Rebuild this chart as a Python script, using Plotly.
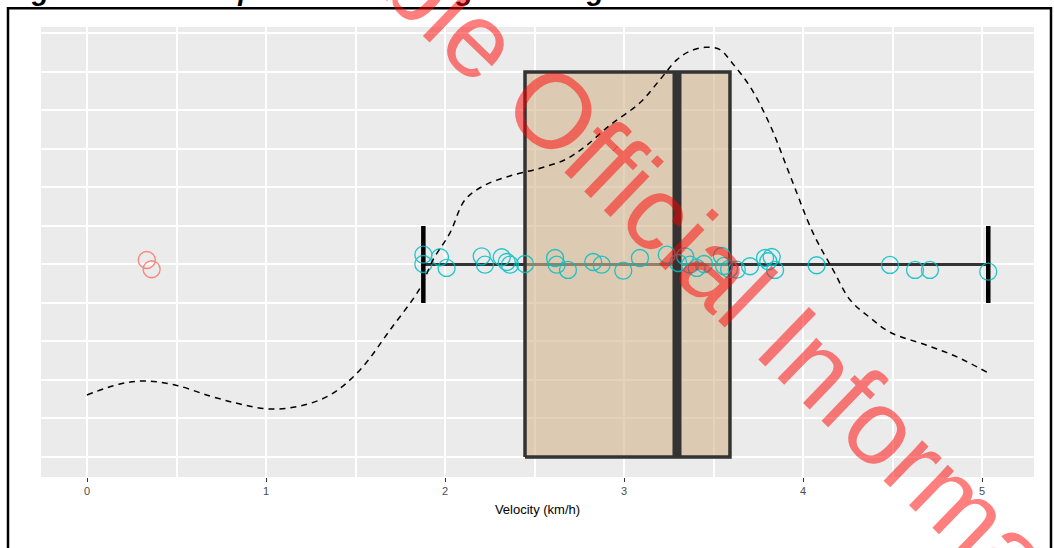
import plotly.graph_objects as go

# ---- data ----
# jittered observations (velocity km/h, vertical jitter position)
fast_x = [1.879, 1.879, 1.972, 2.009, 2.205, 2.223, 2.317, 2.345, 2.363, 2.447,
          2.615, 2.624, 2.687, 2.828, 2.875, 2.996, 3.089, 3.239, 3.303, 3.341,
          3.369, 3.406, 3.447, 3.547, 3.559, 3.587, 3.630, 3.704, 3.788, 3.806,
          3.825, 3.844, 4.076, 4.486, 4.626, 4.709, 5.035]
fast_y = [0.2627, 0.2506, 0.2594, 0.2455, 0.2606, 0.2497, 0.2594, 0.2532, 0.2497, 0.2506,
          0.2584, 0.2497, 0.2429, 0.2532, 0.2497, 0.2419, 0.2584, 0.2627, 0.2519, 0.2606,
          0.2497, 0.2455, 0.2506, 0.2610, 0.2481, 0.2442, 0.2432, 0.2477, 0.2584, 0.2542,
          0.2597, 0.2429, 0.2490, 0.2494, 0.2429, 0.2429, 0.2406]
slow_x = [0.334, 0.361]
slow_y = [0.2558, 0.2438]

# boxplot statistics
q1, median, q3 = 2.447, 3.296, 3.592
whisker_lo, whisker_hi = 1.879, 5.035
box_y0, box_y1, box_mid = 0.0, 0.5, 0.25
cap_half = 0.05

# kernel density estimate (dashed curve)
dens_x = [0.0, 0.184, 0.324, 0.492, 0.687, 0.855, 1.022, 1.190, 1.358, 1.525,
          1.693, 1.860, 1.933, 2.028, 2.112, 2.223, 2.363, 2.531, 2.670, 2.782,
          2.922, 3.089, 3.201, 3.296, 3.369, 3.453, 3.536, 3.603, 3.704, 3.816,
          3.927, 4.056, 4.168, 4.263, 4.374, 4.486, 4.693, 4.860, 5.028]
dens_y = [0.0805, 0.0948, 0.0987, 0.0935, 0.0792, 0.0688, 0.0623, 0.0662, 0.0805, 0.113,
          0.165, 0.219, 0.256, 0.291, 0.334, 0.353, 0.365, 0.375, 0.386, 0.403,
          0.431, 0.460, 0.490, 0.516, 0.527, 0.532, 0.529, 0.512, 0.481, 0.431,
          0.366, 0.291, 0.243, 0.204, 0.181, 0.162, 0.145, 0.130, 0.110]

x_ticks = [0, 1, 2, 3, 4, 5]
x_labels = ["0", "1", "2", "3", "4", "5"]

title_text = "Figure 2: Travel speeds from straightline segments."
watermark_text = "Releasable Official Information"

fig = go.Figure()

# whisker line (full range, box drawn over it)
fig.add_trace(go.Scatter(x=[whisker_lo, whisker_hi], y=[box_mid, box_mid], mode="lines",
                         line=dict(color="#333333", width=3), hoverinfo="skip", showlegend=False))
# whisker caps
fig.add_trace(go.Scatter(x=[whisker_lo, whisker_lo, None, whisker_hi, whisker_hi],
                         y=[box_mid - cap_half, box_mid + cap_half, None, box_mid - cap_half, box_mid + cap_half],
                         mode="lines", line=dict(color="black", width=4.5),
                         hoverinfo="skip", showlegend=False))
# box
fig.add_trace(go.Scatter(x=[q1, q3, q3, q1, q1], y=[box_y0, box_y0, box_y1, box_y1, box_y0],
                         mode="lines", fill="toself", fillcolor="rgba(210,180,140,0.6)",
                         line=dict(color="#333333", width=3.5), hoverinfo="skip", showlegend=False))
# median
fig.add_trace(go.Scatter(x=[median, median], y=[box_y0, box_y1], mode="lines",
                         line=dict(color="#333333", width=9), hoverinfo="skip", showlegend=False))
# points
fig.add_trace(go.Scatter(x=slow_x, y=slow_y, mode="markers",
                         marker=dict(symbol="circle-open", size=17, color="#F8766D",
                                     line=dict(width=1.3, color="#F8766D")),
                         opacity=0.85, showlegend=False))
fig.add_trace(go.Scatter(x=fast_x, y=fast_y, mode="markers",
                         marker=dict(symbol="circle-open", size=17, color="#00BFC4",
                                     line=dict(width=1.3, color="#00BFC4")),
                         opacity=0.85, showlegend=False))
# density
fig.add_trace(go.Scatter(x=dens_x, y=dens_y, mode="lines", line_shape="spline",
                         line=dict(color="black", width=1.5, dash="6px,5px"),
                         hoverinfo="skip", showlegend=False))

# panel spans page x 41..1034, y 27..477 (body margin removed below)
fig.update_layout(
    width=1054, height=548,
    margin=dict(l=41, r=20, t=27, b=71),
    paper_bgcolor="white", plot_bgcolor="#EBEBEB",
    font=dict(family="Liberation Sans, Arial, sans-serif"),
    xaxis=dict(range=[-0.257, 5.2905], tickvals=x_ticks, ticktext=x_labels,
               showgrid=True, gridcolor="white", gridwidth=2,
               minor=dict(dtick=0.5, tick0=0, showgrid=True, gridcolor="white", gridwidth=2, ticks=""),
               ticks="outside", ticklen=4, tickwidth=1, tickcolor="#333333",
               tickfont=dict(size=11, color="#4D4D4D"), zeroline=False, showline=False,
               title=dict(text="Velocity (km/h)", font=dict(size=13, color="black"), standoff=8)),
    yaxis=dict(range=[-0.026, 0.5584], dtick=0.05, tick0=0, showgrid=True,
               gridcolor="white", gridwidth=2, showticklabels=False, ticks="",
               zeroline=False, showline=False),
    shapes=[dict(type="rect", xref="paper", yref="paper",
                 x0=(8 - 41) / 993, x1=(1051 - 41) / 993,
                 y0=(477 - 600) / 450, y1=(477 - 8.3) / 450,
                 line=dict(color="black", width=2.5), fillcolor="rgba(0,0,0,0)", layer="above")],
    annotations=[
        dict(text="<b><i>" + title_text + "</i></b>", xref="paper", yref="paper",
             x=(5 - 41) / 993, y=(477 - 8) / 450, xanchor="left", yanchor="bottom",
             showarrow=False, font=dict(size=28, color="black")),
        dict(text=watermark_text, xref="paper", yref="paper",
             x=(640 - 41) / 993, y=(477 - 194) / 450, xanchor="center", yanchor="middle",
             textangle=44, showarrow=False,
             font=dict(size=106, color="rgba(255,0,0,0.5)", family="Liberation Sans, Arial, sans-serif")),
    ],
)

fig.write_html("out.html", config={"displayModeBar": False},
               post_script="document.body.style.margin='0';document.body.style.overflow='hidden';")
